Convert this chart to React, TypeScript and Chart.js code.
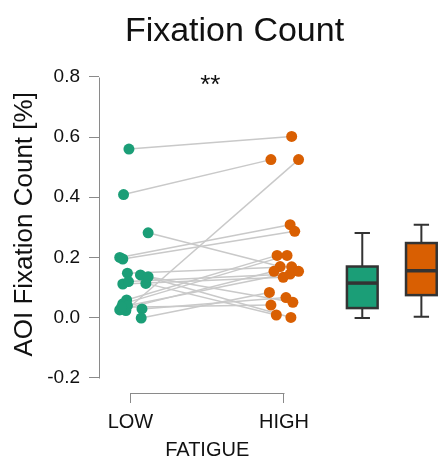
import React, { useEffect, useRef } from "react";
import { Chart, registerables } from "chart.js";

Chart.register(...registerables);

const TITLE = "Fixation Count";
const Y_TITLE = "AOI Fixation Count [%]";
const X_TITLE = "FATIGUE";
const SIGNIF = "**";
const CATEGORIES = ["LOW", "HIGH"];
const Y_TICKS = [-0.2, 0, 0.2, 0.4, 0.6, 0.8];

// paired per participant (LOW fatigue -> HIGH fatigue)
const LOW_VALUES = [0.56, 0.409, 0.024, 0.282, 0.2, 0.195, 0.142, 0.114, 0.136, 0.148, 0.112, 0.12, 0.059, 0.046, 0.026, 0.04, 0.029, -0.001, 0.035];
const HIGH_VALUES = [0.602, 0.525, 0.525, 0.17, 0.309, 0.287, 0.001, 0.009, 0.051, 0.169, 0.134, 0.145, 0.207, 0.207, 0.154, 0.154, 0.067, 0.084, 0.042];
const LOW_JITTER = [-0.01, -0.045, -0.03, 0.115, -0.07, -0.05, 0.065, 0.1, 0.115, -0.02, -0.05, -0.013, -0.025, -0.05, -0.07, -0.02, 0.075, 0.07, -0.058];
const HIGH_JITTER = [0.05, -0.085, 0.095, -0.025, 0.04, 0.07, 0.045, -0.05, 0.058, 0.05, -0.005, 0.04, -0.045, 0.02, -0.065, 0.095, 0.013, -0.095, -0.085];

// box plots
const BOX_POS = [2.51, 2.895];
const BOX_LOW_WHISKER = [-0.001, 0.003];
const BOX_Q1 = [0.032, 0.075];
const BOX_MEDIAN = [0.115, 0.156];
const BOX_Q3 = [0.17, 0.248];
const BOX_HIGH_WHISKER = [0.281, 0.309];
const BOX_WIDTH = 0.2;
const CAP_WIDTH = 0.1;

const COLORS = ["#1b9e77", "#d95f02"];
const LINE_COLOR = "#c9c9c9";
const AXIS_COLOR = "#8a8a8a";
const FONT = "'Liberation Sans', Arial, Helvetica, sans-serif";

const annotations = {
  id: "annotations",
  beforeDatasetsDraw(chart: any) {
    const { ctx, chartArea, scales } = chart;
    const x = scales.x;
    const y = scales.y;
    ctx.save();
    ctx.strokeStyle = AXIS_COLOR;
    ctx.lineWidth = 1;
    const lx = Math.round(chartArea.left) + 0.5;
    ctx.beginPath();
    ctx.moveTo(lx, Math.round(y.getPixelForValue(Y_TICKS[Y_TICKS.length - 1])) + 0.5);
    ctx.lineTo(lx, Math.round(y.getPixelForValue(Y_TICKS[0])) + 0.5);
    ctx.stroke();
    const by = Math.round(chartArea.bottom) + 0.5;
    ctx.beginPath();
    ctx.moveTo(Math.round(x.getPixelForValue(1)) + 0.5, by);
    ctx.lineTo(Math.round(x.getPixelForValue(2)) + 0.5, by);
    ctx.stroke();
    ctx.restore();
  },
  afterDatasetsDraw(chart: any) {
    const { ctx, chartArea, scales } = chart;
    const x = scales.x;
    const y = scales.y;
    ctx.save();
    // boxes
    for (let i = 0; i < BOX_POS.length; i++) {
      const cx = x.getPixelForValue(BOX_POS[i]);
      const x0 = x.getPixelForValue(BOX_POS[i] - BOX_WIDTH / 2);
      const x1 = x.getPixelForValue(BOX_POS[i] + BOX_WIDTH / 2);
      const c0 = x.getPixelForValue(BOX_POS[i] - CAP_WIDTH / 2);
      const c1 = x.getPixelForValue(BOX_POS[i] + CAP_WIDTH / 2);
      const yLo = y.getPixelForValue(BOX_LOW_WHISKER[i]);
      const yQ1 = y.getPixelForValue(BOX_Q1[i]);
      const yMed = y.getPixelForValue(BOX_MEDIAN[i]);
      const yQ3 = y.getPixelForValue(BOX_Q3[i]);
      const yHi = y.getPixelForValue(BOX_HIGH_WHISKER[i]);
      ctx.strokeStyle = "#333333";
      ctx.lineWidth = 2;
      ctx.beginPath();
      ctx.moveTo(cx, yHi);
      ctx.lineTo(cx, yQ3);
      ctx.moveTo(cx, yQ1);
      ctx.lineTo(cx, yLo);
      ctx.moveTo(c0, yHi);
      ctx.lineTo(c1, yHi);
      ctx.moveTo(c0, yLo);
      ctx.lineTo(c1, yLo);
      ctx.stroke();
      ctx.fillStyle = COLORS[i];
      ctx.fillRect(x0, yQ3, x1 - x0, yQ1 - yQ3);
      ctx.lineWidth = 2.5;
      ctx.strokeRect(x0, yQ3, x1 - x0, yQ1 - yQ3);
      ctx.lineWidth = 3.5;
      ctx.beginPath();
      ctx.moveTo(x0, yMed);
      ctx.lineTo(x1, yMed);
      ctx.stroke();
    }
    // texts
    ctx.fillStyle = "#111111";
    ctx.textAlign = "center";
    ctx.textBaseline = "alphabetic";
    ctx.font = `26px ${FONT}`;
    ctx.fillText(SIGNIF, x.getPixelForValue(1.52), y.getPixelForValue(Y_TICKS[Y_TICKS.length - 1]) + 16);
    ctx.font = `20px ${FONT}`;
    ctx.textBaseline = "middle";
    ctx.fillText(X_TITLE, (x.getPixelForValue(1) + x.getPixelForValue(2)) / 2, chartArea.bottom + 57);
    ctx.save();
    ctx.translate(25, (y.getPixelForValue(Y_TICKS[0]) + y.getPixelForValue(Y_TICKS[Y_TICKS.length - 1])) / 2 - 3);
    ctx.rotate(-Math.PI / 2);
    ctx.font = `26px ${FONT}`;
    ctx.fillText(Y_TITLE, 0, 0);
    ctx.restore();
    ctx.restore();
  },
};

export default function App() {
  const ref = useRef<HTMLCanvasElement | null>(null);
  useEffect(() => {
    if (!ref.current) return;
    Chart.defaults.font.family = FONT;
    const lineSets = LOW_VALUES.map((v, i) => ({
      type: "line" as const,
      data: [
        { x: 1 + LOW_JITTER[i], y: v },
        { x: 2 + HIGH_JITTER[i], y: HIGH_VALUES[i] },
      ],
      showLine: true,
      borderColor: LINE_COLOR,
      borderWidth: 1.5,
      pointRadius: 0,
      fill: false,
      order: 5,
    }));
    const chart = new Chart(ref.current, {
      type: "scatter",
      data: {
        datasets: [
          {
            label: CATEGORIES[0],
            data: LOW_VALUES.map((v, i) => ({ x: 1 + LOW_JITTER[i], y: v })),
            backgroundColor: COLORS[0],
            borderColor: COLORS[0],
            borderWidth: 0,
            pointRadius: 5.5,
            order: 1,
          },
          {
            label: CATEGORIES[1],
            data: HIGH_VALUES.map((v, i) => ({ x: 2 + HIGH_JITTER[i], y: v })),
            backgroundColor: COLORS[1],
            borderColor: COLORS[1],
            borderWidth: 0,
            pointRadius: 5.5,
            order: 1,
          },
          ...lineSets,
        ] as any,
      },
      options: {
        animation: false,
        responsive: true,
        maintainAspectRatio: false,
        layout: { padding: { left: 30, right: 0, top: 0, bottom: 0 } },
        plugins: {
          legend: { display: false },
          tooltip: { enabled: false },
          title: {
            display: true,
            text: TITLE,
            color: "#111111",
            font: { size: 34, weight: "normal", family: FONT },
            padding: { top: 11, bottom: 25 },
          },
        },
        scales: {
          x: {
            type: "linear",
            min: 0.795,
            max: 2.974,
            afterFit: (s: any) => {
              s.height = 65;
            },
            afterBuildTicks: (s: any) => {
              s.ticks = CATEGORIES.map((_, i) => ({ value: i + 1 }));
            },
            ticks: {
              callback: (v: any) => CATEGORIES[Math.round(Number(v)) - 1] ?? "",
              color: "#111111",
              font: { size: 20 },
              padding: 7,
              maxRotation: 0,
              autoSkip: false,
            },
            grid: { drawOnChartArea: false, drawTicks: true, tickLength: 10, color: AXIS_COLOR },
            border: { display: false },
          },
          y: {
            type: "linear",
            min: -0.25,
            max: 0.8,
            afterFit: (s: any) => {
              s.width = 69;
            },
            afterBuildTicks: (s: any) => {
              s.ticks = Y_TICKS.map((v) => ({ value: v }));
            },
            ticks: {
              callback: (v: any) => Number(v).toFixed(1),
              color: "#111111",
              font: { size: 19 },
              padding: 9,
            },
            grid: { drawOnChartArea: false, drawTicks: true, tickLength: 10, color: AXIS_COLOR },
            border: { display: false },
          },
        },
      },
      plugins: [annotations],
    });
    return () => chart.destroy();
  }, []);
  return (
    <div style={{ position: "absolute", left: 0, top: 0, width: 439, height: 458 }}>
      <canvas ref={ref} />
    </div>
  );
}
